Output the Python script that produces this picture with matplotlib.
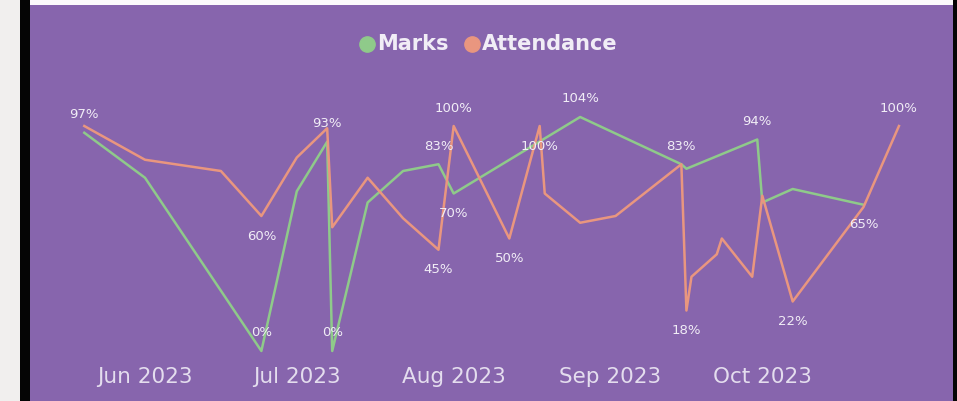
import datetime as dt

import matplotlib
matplotlib.use("Agg")
import matplotlib.pyplot as plt
import matplotlib.dates as mdates
from matplotlib.lines import Line2D
from matplotlib.patches import Rectangle

MARKS_DATES = ["2023-05-20", "2023-06-01", "2023-06-24", "2023-07-01", "2023-07-07",
               "2023-07-08", "2023-07-15", "2023-07-22", "2023-07-29", "2023-08-01",
               "2023-08-26", "2023-09-15", "2023-09-16", "2023-09-30", "2023-10-01",
               "2023-10-07", "2023-10-21"]
MARKS = [97, 77, 0, 71, 93, 0, 66, 80, 83, 70, 104, 83, 81, 94, 66, 72, 65]

ATT_DATES = ["2023-05-20", "2023-06-01", "2023-06-16", "2023-06-24", "2023-07-01",
             "2023-07-07", "2023-07-08", "2023-07-15", "2023-07-22", "2023-07-29",
             "2023-08-01", "2023-08-12", "2023-08-18", "2023-08-19", "2023-08-26",
             "2023-09-02", "2023-09-15", "2023-09-16", "2023-09-17", "2023-09-22",
             "2023-09-23", "2023-09-29", "2023-10-01", "2023-10-07", "2023-10-21",
             "2023-10-28"]
ATTENDANCE = [100, 85, 80, 60, 86, 99, 55, 77, 59, 45, 100, 50, 100, 70, 57, 60,
              83, 18, 33, 43, 50, 33, 69, 22, 64, 100]

# which points get a data label, and whether it sits above (1) or below (-1)
MARKS_LABELS = {"2023-05-20": 1, "2023-06-24": 1, "2023-07-07": 1, "2023-07-08": 1,
                "2023-07-29": 1, "2023-08-01": -1, "2023-08-26": 1, "2023-09-15": 1,
                "2023-09-30": 1, "2023-10-21": -1}
ATT_LABELS = {"2023-06-24": -1, "2023-07-29": -1, "2023-08-01": 1, "2023-08-12": -1,
              "2023-08-18": -1, "2023-09-16": -1, "2023-10-07": -1, "2023-10-28": 1}

MONTHS = ["2023-06-01", "2023-07-01", "2023-08-01", "2023-09-01", "2023-10-01"]
MONTH_NAMES = ["Jun 2023", "Jul 2023", "Aug 2023", "Sep 2023", "Oct 2023"]

PURPLE = "#8765AD"
GREEN = "#8FCA8A"
ORANGE = "#E9967F"
TXT = "#F1EDF6"

W, H = 957, 401


def d(s):
    return dt.datetime.strptime(s, "%Y-%m-%d")


fig = plt.figure(figsize=(W / 100, H / 100), dpi=100, facecolor=PURPLE)

# frame around the card
fig.add_artist(Rectangle((0, 0), 20 / W, 1, transform=fig.transFigure, color="#F1EFEE", lw=0))
fig.add_artist(Rectangle((20 / W, 0), 9.5 / W, 1, transform=fig.transFigure, color="#050505", lw=0))
fig.add_artist(Rectangle((953 / W, 0), 4 / W, 1, transform=fig.transFigure, color="#050505", lw=0))
fig.add_artist(Rectangle((29.5 / W, 1 - 4.5 / H), 923.5 / W, 4.5 / H, transform=fig.transFigure,
                         color="#FBFAFB", lw=0))

left, right, top, bottom = 30, 952, 60, 360
ax = fig.add_axes([left / W, 1 - bottom / H, (right - left) / W, (bottom - top) / H])
ax.set_facecolor("none")

ax.plot([d(s) for s in MARKS_DATES], MARKS, color=GREEN, lw=1.8, zorder=2)
ax.plot([d(s) for s in ATT_DATES], ATTENDANCE, color=ORANGE, lw=1.8, zorder=3)

for dates, vals, labels in [(MARKS_DATES, MARKS, MARKS_LABELS), (ATT_DATES, ATTENDANCE, ATT_LABELS)]:
    for s, v in zip(dates, vals):
        if s in labels:
            off = 18 if labels[s] > 0 else -20
            ax.annotate(f"{round(v)}%", (d(s), v), xytext=(0, off), textcoords="offset pixels",
                        ha="center", va="center", fontsize=9.5, color=TXT, zorder=4)

px_per_day = 5.06
jun1 = d("2023-06-01")
ax.set_xlim(jun1 - dt.timedelta(days=(145 - left) / px_per_day),
            jun1 + dt.timedelta(days=(right - 145) / px_per_day))
ax.set_ylim((351 - bottom) / 2.25, (351 - top) / 2.25)

ax.set_xticks([d(s) for s in MONTHS])
ax.set_xticklabels(MONTH_NAMES, fontsize=15.5, color="#E4DDEE")
ax.tick_params(axis="x", length=0, pad=5)
ax.set_yticks([])
for sp in ax.spines.values():
    sp.set_visible(False)

# legend
for x, c in [(367, GREEN), (472, ORANGE)]:
    fig.add_artist(Line2D([x / W], [1 - 44 / H], marker="o", ms=11, color=c,
                          transform=fig.transFigure, lw=0))
fig.text(377 / W, 1 - 44 / H, "Marks", fontsize=15, fontweight="bold", color=TXT,
         ha="left", va="center")
fig.text(482 / W, 1 - 44 / H, "Attendance", fontsize=15, fontweight="bold", color=TXT,
         ha="left", va="center")

fig.savefig("out.png", dpi=100, facecolor=fig.get_facecolor())
